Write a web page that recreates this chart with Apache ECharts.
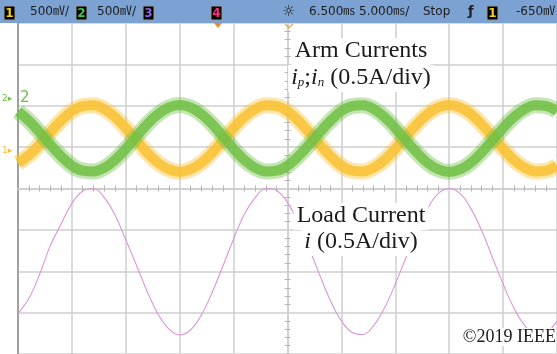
<!DOCTYPE html>
<html>
<head>
<meta charset="utf-8">
<script src="https://cdn.jsdelivr.net/npm/echarts@6/dist/echarts.min.js"></script>
<style>
  html, body { margin: 0; padding: 0; background: #fff; }
  #chart { width: 557px; height: 354px; }
</style>
</head>
<body>
<div id="chart"></div>
<script>
// time relative to screen centre (ms), 5 ms/div
var timeMs = [-25, -24, -23, -22, -21, -20, -19, -18, -17, -16, -15, -14, -13, -12, -11, -10, -9, -8, -7, -6, -5, -4, -3, -2, -1, 0,
  1, 2, 3, 4, 5, 6, 7, 8, 9, 10, 11, 12, 13, 14, 15, 16, 17, 18, 19, 20, 21, 22, 23, 24, 25];

// screen divisions (0.5 A/div)
var armCurrentP = [0.62, 0.80, 1.06, 1.36, 1.64, 1.87, 1.99, 2.01, 1.92, 1.73, 1.46, 1.16, 0.86, 0.62, 0.46, 0.40, 0.46, 0.62, 0.86, 1.16, 1.46, 1.73, 1.92, 2.01, 1.99, 1.87,
  1.64, 1.36, 1.06, 0.78, 0.55, 0.43, 0.41, 0.50, 0.69, 0.96, 1.26, 1.55, 1.80, 1.96, 2.02, 1.96, 1.80, 1.55, 1.26, 0.96, 0.69, 0.50, 0.41, 0.43, 0.55];
var armCurrentN = [1.86, 1.64, 1.36, 1.06, 0.78, 0.55, 0.43, 0.41, 0.50, 0.69, 0.96, 1.26, 1.56, 1.80, 1.96, 2.02, 1.96, 1.80, 1.56, 1.26, 0.96, 0.69, 0.50, 0.41, 0.43, 0.55,
  0.78, 1.06, 1.36, 1.64, 1.87, 1.99, 2.01, 1.92, 1.73, 1.46, 1.16, 0.87, 0.62, 0.46, 0.40, 0.46, 0.62, 0.87, 1.16, 1.46, 1.73, 1.92, 2.01, 1.99, 1.87];
var loadCurrent = [-3.02, -2.66, -2.08, -1.38, -0.86, -0.36, -0.06, 0.00, -0.22, -0.64, -1.24, -1.86, -2.50, -3.04, -3.40, -3.54, -3.42, -3.06, -2.52, -1.88, -1.22, -0.62, -0.22, 0.00, -0.05, -0.34,
  -0.82, -1.44, -2.10, -2.72, -3.20, -3.48, -3.53, -3.31, -2.89, -2.31, -1.66, -1.01, -0.48, -0.12, 0.00, -0.12, -0.48, -1.01, -1.66, -2.31, -2.89, -3.31, -3.52, -3.48, -3.20];

var pairs = function (ys) {
  return timeMs.map(function (t, i) { return [t, ys[i]]; });
};

var gridColor = '#cfcfcf';
var yellow = '#f9c132';
var green = '#70bf44';
var pink = '#db96d8';
var serif = '"Liberation Serif", "DejaVu Serif", serif';
var mono = '"DejaVu Sans", "Noto Sans CJK JP", sans-serif';

var chart = echarts.init(document.getElementById('chart'), null, { renderer: 'canvas' });

// little black channel boxes of the scope status bar
var chBox = function (x, label, color) {
  return [
    { type: 'rect', z: 11, silent: true, shape: { x: x, y: 6, width: 11, height: 14, r: 1 }, style: { fill: '#000', stroke: '#9a9a9a', lineWidth: 1 } },
    { type: 'text', z: 12, silent: true, x: x + 5.5, y: 13.5, style: { text: label, fill: color, font: 'bold 12px ' + mono, align: 'center', verticalAlign: 'middle' } }
  ];
};
var barText = function (x, str, font) {
  return { type: 'text', z: 12, silent: true, x: x, y: 12, style: { text: str, fill: '#1c1c1c', font: font || '12px ' + mono, verticalAlign: 'middle' } };
};

var statusBar = [
  { type: 'rect', z: 10, silent: true, shape: { x: 0, y: 0, width: 557, height: 23 }, style: { fill: '#7ba2d2' } }
].concat(
  chBox(4, '1', '#f5d020'), [barText(30, '500㎷/')],
  chBox(76, '2', '#46c840'), [barText(97, '500㎷/')],
  chBox(143, '3', '#9060e0'),
  chBox(211, '4', '#ff2a80'),
  [barText(282, '☼', '15px ' + mono), barText(309, '6.500㎳'), barText(359, '5.000㎳/'), barText(423, 'Stop'), barText(468, 'ƒ', 'bold 13px ' + mono)],
  chBox(487, '1', '#f5d020'), [barText(516, '-650㎷')]
);

// one centred annotation line (top edge at y), white box behind it
var label = function (y, str, rich) {
  return {
    type: 'text', z: 12, silent: true, x: 361, y: y,
    style: {
      text: str, align: 'center', verticalAlign: 'top', font: '24px ' + serif, fill: '#1a1a1a',
      backgroundColor: '#fff', padding: [1, 3, 2, 3], rich: rich || {}
    }
  };
};
var itRich = {
  it: { font: 'italic 24px ' + serif, fill: '#1a1a1a' },
  sub: { font: 'italic 13px ' + serif, fill: '#1a1a1a', padding: [10, 0, 0, 0] }
};

chart.setOption({
  backgroundColor: '#fff',
  animation: false,
  grid: { left: 18, top: 23, width: 540, height: 344 },
  xAxis: [
    {
      type: 'value', min: -25, max: 25, interval: 5, position: 'bottom',
      axisLine: { onZero: true, onZeroAxisIndex: 0, lineStyle: { color: gridColor, width: 1.5 } },
      axisTick: { show: false },
      minorTick: { show: true, splitNumber: 5, length: 3, lineStyle: { color: '#b5b5b5' } },
      axisLabel: { show: false },
      splitLine: { show: true, lineStyle: { color: gridColor, width: 1.5 } }
    },
    {
      type: 'value', min: -25, max: 25, interval: 5, position: 'top',
      axisLine: { onZero: true, onZeroAxisIndex: 0, lineStyle: { color: gridColor, width: 1.5 } },
      axisTick: { show: false },
      minorTick: { show: true, splitNumber: 5, length: 3, lineStyle: { color: '#b5b5b5' } },
      axisLabel: { show: false },
      splitLine: { show: false }
    }
  ],
  yAxis: [
    {
      type: 'value', min: -4, max: 4, interval: 1, position: 'left',
      axisLine: { show: true, onZero: false, lineStyle: { color: '#a0a0a0', width: 2 } },
      axisTick: { show: false },
      axisLabel: { show: false },
      splitLine: { show: true, lineStyle: { color: gridColor, width: 1.5 } }
    },
    {
      type: 'value', min: -4, max: 4, interval: 1, position: 'right',
      axisLine: { show: true, onZero: true, onZeroAxisIndex: 0, lineStyle: { color: gridColor, width: 1.5 } },
      axisTick: { show: false },
      minorTick: { show: true, splitNumber: 5, length: 3, lineStyle: { color: '#b5b5b5' } },
      axisLabel: { show: false },
      splitLine: { show: false }
    },
    {
      type: 'value', min: -4, max: 4, interval: 1, position: 'left',
      axisLine: { show: true, onZero: true, onZeroAxisIndex: 0, lineStyle: { color: gridColor, width: 1.5 } },
      axisTick: { show: false },
      minorTick: { show: true, splitNumber: 5, length: 3, lineStyle: { color: '#b5b5b5' } },
      axisLabel: { show: false },
      splitLine: { show: false }
    }
  ],
  series: [
    {
      name: 'i', type: 'line', data: pairs(loadCurrent), smooth: 0.4, showSymbol: false, z: 3,
      lineStyle: { color: pink, width: 1.1 }
    },
    {
      name: 'ip', type: 'line', data: pairs(armCurrentP), smooth: 0.4, showSymbol: false, z: 4,
      lineStyle: { color: yellow, width: 16, opacity: 0.4 }
    },
    {
      name: 'ip core', type: 'line', data: pairs(armCurrentP), smooth: 0.4, showSymbol: false, z: 4,
      lineStyle: { color: yellow, width: 10, opacity: 0.85 }
    },
    {
      name: 'in', type: 'line', data: pairs(armCurrentN), smooth: 0.4, showSymbol: false, z: 5,
      lineStyle: { color: green, width: 16, opacity: 0.4 }
    },
    {
      name: 'in core', type: 'line', data: pairs(armCurrentN), smooth: 0.4, showSymbol: false, z: 5,
      lineStyle: { color: green, width: 10, opacity: 0.85 }
    }
  ],
  graphic: statusBar.concat([
    // delay / trigger markers
    { type: 'polygon', z: 11, silent: true, shape: { points: [[214, 23], [222, 23], [218, 28]] }, style: { fill: '#f08a1c' } },
    { type: 'polyline', z: 11, silent: true, shape: { points: [[285, 24], [289, 28], [293, 24]] }, style: { stroke: '#f0a040', lineWidth: 1.2, fill: null } },
    // ground reference markers
    { type: 'text', left: 2, top: 94, z: 11, silent: true, style: { text: '2▸', fill: green, font: '9px ' + mono } },
    { type: 'text', left: 20, top: 91, z: 11, silent: true, style: { text: '2', fill: green, font: '15px ' + mono } },
    { type: 'text', left: 2, top: 146, z: 11, silent: true, style: { text: '1▸', fill: yellow, font: '9px ' + mono } },
    // annotations
    label(38, 'Arm Currents'),
    label(65, '{it|i}{sub|p};{it|i}{sub|n} (0.5A/div)', itRich),
    label(203, 'Load Current'),
    label(229, '{it|i} (0.5A/div)', itRich),
    {
      type: 'text', right: 1, top: 328, z: 12, silent: true,
      style: { text: '©2019 IEEE', font: '18px ' + serif, fill: '#1a1a1a', backgroundColor: '#fff', padding: [0, 0, 0, 2] }
    }
  ])
});
</script>
</body>
</html>
